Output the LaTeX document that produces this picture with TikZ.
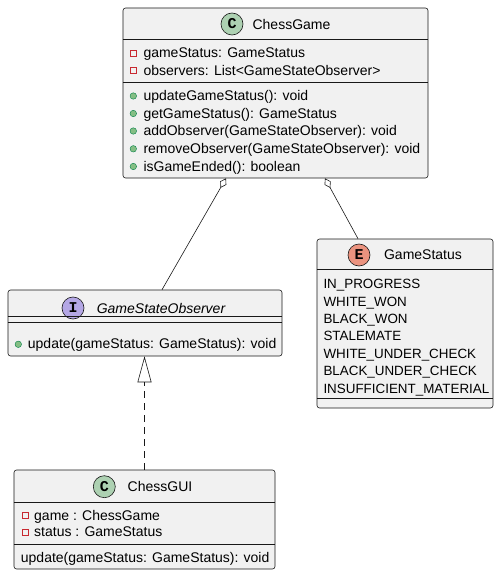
\documentclass[tikz,border=0pt]{standalone}
\usepackage{fontspec}
\setmainfont{Liberation Sans}
\newfontfamily\spotfont{Liberation Mono}
\usepackage{tikz}
\usetikzlibrary{arrows.meta,positioning,calc}
\definecolor{boxfill}{HTML}{F1F1F1}
\definecolor{boxline}{HTML}{181818}
\definecolor{spotclass}{HTML}{ADD1B2}
\definecolor{spotiface}{HTML}{B4A7E5}
\definecolor{spotenum}{HTML}{EB937F}
\definecolor{privred}{HTML}{C82930}
\definecolor{pubfill}{HTML}{84BE84}
\definecolor{publine}{HTML}{038048}
\tikzset{
  cls/.style={rectangle, draw=boxline, fill=boxfill, line width=0.6pt, rounded corners=2.5pt, inner sep=0pt},
  divider/.style={draw=boxline, line width=0.6pt},
  spot/.style={circle, draw=boxline, line width=0.6pt, minimum size=22pt, inner sep=0pt, font=\spotfont\bfseries\fontsize{15}{15}\selectfont},
  ttl/.style={inner sep=0pt, font=\fontsize{14}{17}\selectfont},
  mbr/.style={anchor=west, inner sep=0pt, text height=11pt, text depth=2pt, font=\fontsize{14}{17}\selectfont},
  priv/.style={rectangle, draw=privred, line width=0.6pt, minimum size=6pt, inner sep=0pt},
  pub/.style={circle, fill=pubfill, draw=publine, line width=0.4pt, minimum size=6.5pt, inner sep=0pt},
  agg/.style={{Diamond[open,length=11pt,width=7pt]}-, draw=boxline, line width=0.6pt},
  realize/.style={-{Triangle[open,length=26pt,width=14pt]}, draw=boxline, line width=0.6pt, dash pattern=on 7pt off 5pt}
}

\begin{document}
\begin{tikzpicture}[x=1pt,y=-1pt]
    \useasboundingbox (0,0) rectangle (502,575);

    % === ChessGame ===
    \node[cls, minimum width=305pt, minimum height=170pt] (game) at (275.5,93) {};
    \node[spot, fill=spotclass] (gamespot) at (232,24) {C};
    \node[ttl] (gametitle) at (291.5,24) {ChessGame};
    \draw[divider] (game.west |- 0,39.5) -- (game.east |- 0,39.5);
    \draw[divider] (game.west |- 0,82.5) -- (game.east |- 0,82.5);
    \foreach \y/\t [count=\i] in {53.5/gameStatus: GameStatus, 70.8/observers: List<GameStateObserver>} {
        \node[priv] (gameai\i) at (133.3,\y) {};
        \node[mbr] (gamea\i) at (143.3,\y) {\t};
    }
    \foreach \y/\t [count=\i] in {96/updateGameStatus(): void, 113.5/getGameStatus(): GameStatus,
        131/addObserver(GameStateObserver): void, 148.8/removeObserver(GameStateObserver): void,
        166.5/isGameEnded(): boolean} {
        \node[pub] (gamemi\i) at (133.3,\y) {};
        \node[mbr] (gamem\i) at (143.3,\y) {\t};
    }

    % === GameStateObserver ===
    \node[cls, minimum width=274pt, minimum height=66pt] (observer) at (145,323) {};
    \node[spot, fill=spotiface] (observerspot) at (73,308) {I};
    \node[ttl, font=\fontsize{14}{17}\selectfont\itshape] (observertitle) at (161,308) {GameStateObserver};
    \draw[divider] (observer.west |- 0,316) -- (observer.east |- 0,316);
    \draw[divider] (observer.west |- 0,322) -- (observer.east |- 0,322);
    \node[pub] (observermi1) at (18.3,344.3) {};
    \node[mbr] (observerm1) at (27.7,344.3) {update(gameStatus: GameStatus): void};

    % === GameStatus ===
    \node[cls, minimum width=176pt, minimum height=169pt] (status) at (405,323.5) {};
    \node[spot, fill=spotenum] (statusspot) at (359,255) {E};
    \node[ttl] (statustitle) at (423,255) {GameStatus};
    \draw[divider] (status.west |- 0,269.3) -- (status.east |- 0,269.3);
    \draw[divider] (status.west |- 0,398.3) -- (status.east |- 0,398.3);
    \foreach \y/\t [count=\i] in {284.3/IN\_PROGRESS, 301.7/WHITE\_WON, 319/BLACK\_WON, 336.3/STALEMATE,
        353.5/WHITE\_UNDER\_CHECK, 371/BLACK\_UNDER\_CHECK, 388.8/INSUFFICIENT\_MATERIAL} {
        \node[mbr, font=\fontsize{13.4}{17}\selectfont] (statusv\i) at (323.3,\y) {\t};
    }

    % === ChessGUI ===
    \node[cls, minimum width=261pt, minimum height=99pt] (gui) at (144.5,519.5) {};
    \node[spot, fill=spotclass] (guispot) at (104.3,486.7) {C};
    \node[ttl] (guititle) at (160,486.7) {ChessGUI};
    \draw[divider] (gui.west |- 0,502.7) -- (gui.east |- 0,502.7);
    \draw[divider] (gui.west |- 0,544) -- (gui.east |- 0,544);
    \foreach \y/\t [count=\i] in {515.7/game : ChessGame, 532.3/status : GameStatus} {
        \node[priv] (guiai\i) at (25,\y) {};
        \node[mbr] (guia\i) at (34,\y) {\t};
    }
    \node[mbr] (guim1) at (20.7,558.3) {update(gameStatus: GameStatus): void};

    % === Relations ===
    \draw[agg] ([xshift=-49.5pt]game.south) -- ([xshift=17pt]observer.north);
    \draw[agg] ([xshift=49.5pt]game.south) -- ([xshift=-47pt]status.north);
    \draw[realize] (gui.north) -- (gui.north |- observer.south);

\end{tikzpicture}
\end{document}
